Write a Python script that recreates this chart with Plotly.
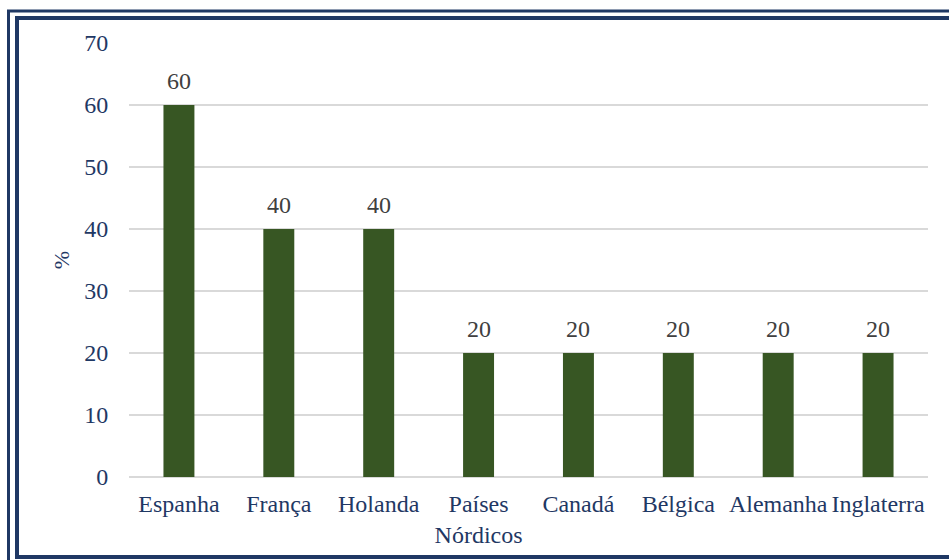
import plotly.graph_objects as go

categories = ["Espanha", "França", "Holanda", "Países<br>Nórdicos", "Canadá", "Bélgica", "Alemanha", "Inglaterra"]
values = [60, 40, 40, 20, 20, 20, 20, 20]
y_ticks = [0, 10, 20, 30, 40, 50, 60, 70]

W, H = 949, 560
L, R, T, B = 129, 928, 43, 477
navy = "#1F3864"
FS = 24

def px(x):
    return (x - L) / (R - L)

def py(y):
    return (B - y) / (B - T)

fig = go.Figure(go.Bar(
    x=categories, y=values,
    marker=dict(color="#375623", line=dict(width=0)),
    cliponaxis=False,
))

annotations = [
    dict(x=c, y=v, xref="x", yref="y", text=str(v), showarrow=False,
         yanchor="bottom", yshift=9,
         font=dict(family="Liberation Serif", size=FS, color="#404040"))
    for c, v in zip(categories, values)
]

fig.update_layout(
    width=W, height=H,
    margin=dict(l=L, r=W - R, t=T, b=H - B, pad=0, autoexpand=False),
    paper_bgcolor="white", plot_bgcolor="white",
    bargap=0.69,
    showlegend=False,
    font=dict(family="Liberation Serif", size=FS, color=navy),
    xaxis=dict(showgrid=False, showline=False, ticks="outside", ticklen=5,
               tickcolor="rgba(0,0,0,0)", tickfont=dict(size=FS, color=navy),
               fixedrange=True, automargin=False),
    yaxis=dict(range=[0, 70], tickvals=y_ticks, showgrid=True, gridcolor="#D9D9D9", gridwidth=1.5,
               zeroline=True, zerolinecolor="#D9D9D9", zerolinewidth=1.5,
               ticks="outside", ticklen=15, tickcolor="rgba(0,0,0,0)",
               tickfont=dict(size=FS, color=navy), automargin=False,
               title=dict(text="%", font=dict(size=22, color=navy), standoff=8)),
    annotations=annotations,
    shapes=[
        dict(type="rect", xref="paper", yref="paper",
             x0=px(8.5), x1=px(975), y0=py(11), y1=py(590),
             line=dict(color=navy, width=3), fillcolor="rgba(0,0,0,0)", layer="above"),
        dict(type="rect", xref="paper", yref="paper",
             x0=px(17), x1=px(970), y0=py(18), y1=py(557),
             line=dict(color=navy, width=4), fillcolor="rgba(0,0,0,0)", layer="above"),
    ],
)

fig.write_html(
    "out.html",
    config={"displayModeBar": False},
    post_script="document.body.style.margin='0';document.body.style.overflow='hidden';",
)
